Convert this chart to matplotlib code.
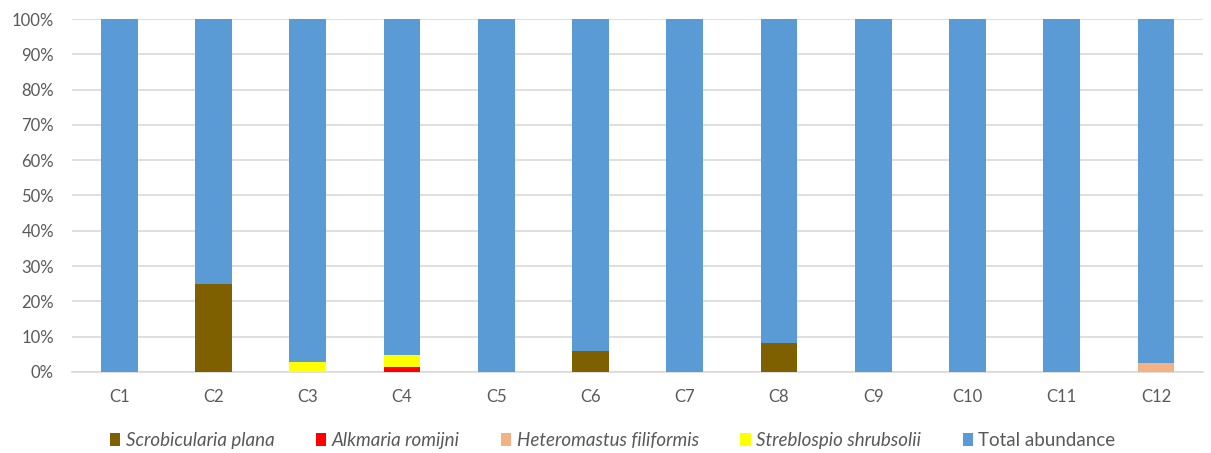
import matplotlib.pyplot as plt
import numpy as np

plt.rcParams['font.family'] = ['Lato', 'DejaVu Sans']

sites = ['C1', 'C2', 'C3', 'C4', 'C5', 'C6', 'C7', 'C8', 'C9', 'C10', 'C11', 'C12']
scrobicularia = [0, 25, 0, 0, 0, 6, 0, 8.3, 0, 0, 0, 0]
alkmaria = [0, 0, 0, 1.5, 0, 0, 0, 0, 0, 0, 0, 0]
heteromastus = [0, 0, 0, 0, 0, 0, 0, 0, 0, 0, 0, 2.6]
streblospio = [0, 0, 2.9, 3.2, 0, 0, 0, 0, 0, 0, 0, 0]

series = [
    ('Scrobicularia plana', scrobicularia, '#7f6000'),
    ('Alkmaria romijni', alkmaria, '#ff0000'),
    ('Heteromastus filiformis', heteromastus, '#f4b183'),
    ('Streblospio shrubsolii', streblospio, '#ffff00'),
]
total = 100 - np.array(scrobicularia) - np.array(alkmaria) - np.array(heteromastus) - np.array(streblospio)

fig = plt.figure(figsize=(12.11, 4.53), dpi=100)
ax = fig.add_axes([0.0595, 0.179, 0.934, 0.779])
x = np.arange(len(sites))
bottom = np.zeros(len(sites))
handles = []
for name, vals, color in series:
    b = ax.bar(x, vals, 0.39, bottom=bottom, color=color, label=name, zorder=3)
    bottom += np.array(vals)
    handles.append(b)
b = ax.bar(x, total, 0.39, bottom=bottom, color='#5b9bd5', label='Total abundance', zorder=3)
handles.append(b)

ax.set_xlim(-0.5, len(sites) - 0.5)
ax.set_ylim(0, 100)
ax.set_yticks(np.arange(0, 101, 10))
ax.set_yticklabels([f'{v}%' for v in range(0, 101, 10)])
ax.set_xticks(x)
ax.set_xticklabels(sites)
ax.tick_params(length=0, labelsize=12, colors='#595959')
ax.tick_params(axis='y', pad=13)
ax.tick_params(axis='x', pad=12)
ax.grid(axis='y', color='#d9d9d9', linewidth=1.2, zorder=0)
for s in ['left', 'right', 'top']:
    ax.spines[s].set_visible(False)
ax.spines['bottom'].set_color('#d9d9d9')
ax.spines['bottom'].set_linewidth(1.2)

leg = fig.legend(handles=handles, loc='center', bbox_to_anchor=(0.506, 0.027), ncol=5, frameon=False,
                 fontsize=13.5, handlelength=0.55, handleheight=0.7, handletextpad=0.3, columnspacing=2.2)
for i, t in enumerate(leg.get_texts()):
    t.set_color('#595959')
    if i < 4:
        t.set_style('italic')

fig.savefig('out.png', dpi=100)
